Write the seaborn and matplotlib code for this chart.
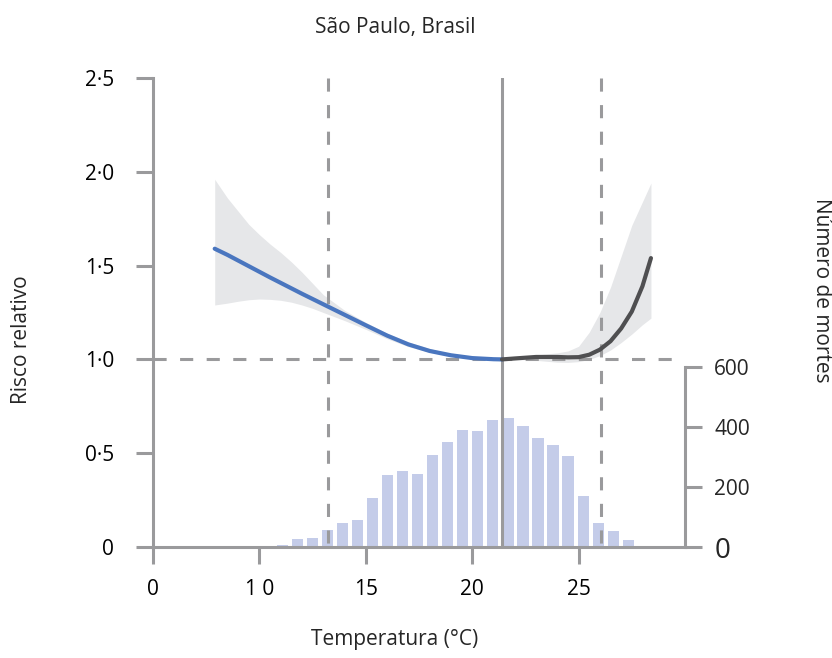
import numpy as np
import matplotlib
matplotlib.use("Agg")
import matplotlib.pyplot as plt
import seaborn as sns

# exposure-response curve (temperature in °C, relative risk)
temp = [7.9, 8.5, 9.0, 9.5, 10.0, 10.5, 11.0, 11.5, 12.0, 12.5, 13.0, 14.0, 15.0, 16.0,
        17.0, 18.0, 19.0, 20.0, 21.0, 21.4, 22.0, 23.0, 24.0, 24.5, 25.0, 25.5, 26.0,
        26.5, 27.0, 27.5, 28.0, 28.4]
rr = [1.59, 1.557, 1.527, 1.497, 1.467, 1.437, 1.408, 1.379, 1.35, 1.322, 1.294, 1.238,
      1.182, 1.127, 1.08, 1.045, 1.022, 1.007, 1.001, 1.0, 1.005, 1.013, 1.013, 1.011,
      1.012, 1.025, 1.052, 1.097, 1.165, 1.255, 1.39, 1.54]
rr_hi = [1.96, 1.86, 1.79, 1.72, 1.665, 1.615, 1.57, 1.52, 1.465, 1.405, 1.345, 1.262,
         1.197, 1.14, 1.093, 1.058, 1.03, 1.012, 1.003, 1.0, 1.01, 1.024, 1.035, 1.045,
         1.07, 1.145, 1.25, 1.385, 1.55, 1.715, 1.84, 1.94]
rr_lo = [1.29, 1.30, 1.31, 1.318, 1.322, 1.32, 1.315, 1.305, 1.29, 1.272, 1.25, 1.207,
         1.16, 1.11, 1.068, 1.038, 1.016, 1.004, 1.0, 1.0, 1.0, 0.995, 0.985, 0.984,
         0.988, 1.0, 1.02, 1.05, 1.09, 1.135, 1.185, 1.22]
mmt = 21.4
pct_lines = [13.24, 26.06]

# daily deaths histogram
bin_centres = [11.09, 11.80, 12.50, 13.21, 13.91, 14.62, 15.33, 16.03, 16.74, 17.44,
               18.15, 18.86, 19.56, 20.27, 20.97, 21.68, 22.39, 23.09, 23.80, 24.50,
               25.21, 25.92, 26.62, 27.33, 28.03]
deaths = [6, 26, 30, 56, 81, 89, 162, 238, 252, 242, 307, 349, 391, 387, 422, 428,
          402, 363, 341, 302, 170, 81, 52, 22, 3]

xtick_pos = [5, 10, 15, 20, 25]
xtick_lab = ["0", "1 0", "15", "20", "25"]
ytick_pos = [0, 0.5, 1.0, 1.5, 2.0, 2.5]
ytick_lab = ["0", "0·5", "1·0", "1·5", "2·0", "2·5"]

grey = "#9a9a9c"
dash = (0, (4.3, 4.4))
sns.set_style("white")
plt.rcParams["font.family"] = ["Open Sans", "DejaVu Sans"]

fig = plt.figure(figsize=(8.32, 6.58), dpi=100)
ax = fig.add_axes([153 / 832, 1 - 547 / 658, 532 / 832, 469 / 658])
ax2 = ax.twinx()
ax.set_zorder(ax2.get_zorder() + 1)
ax.patch.set_visible(False)

# histogram on the right axis
half = 0.353
edges = [c - half for c in bin_centres] + [bin_centres[-1] + half]
sns.histplot(x=bin_centres, weights=deaths, bins=edges, shrink=0.74, ax=ax2,
             color="#c4cce9", alpha=1, edgecolor="none", linewidth=0)
ax2.set_ylim(0, 1561)
ax2.set_ylabel("")
ax2.set_yticks([0, 200, 400, 600])
ax2.set_yticklabels(["0", "200", "400", "600"])

# reference lines
ax.plot([5, 30], [1, 1], color=grey, lw=2.2, ls=dash, zorder=1)
for xv in pct_lines:
    ax.plot([xv, xv], [2.5, 0], color=grey, lw=2.2, ls=dash, zorder=1)
ax.plot([mmt, mmt], [0, 2.5], color=grey, lw=2.2, zorder=1)

# confidence band and curve
ax.fill_between(temp, rr_lo, rr_hi, color="#e6e7e9", lw=0, zorder=0.5)
t = np.array(temp)
r = np.array(rr)
cold = t <= mmt
heat = t >= mmt
sns.lineplot(x=t[cold], y=r[cold], ax=ax, color="#4a76bf", lw=3, zorder=3)
sns.lineplot(x=t[heat], y=r[heat], ax=ax, color="#4f4f51", lw=3, zorder=3)

ax.set_xlim(5, 30)
ax.set_ylim(0, 2.5)
ax.set_xticks(xtick_pos)
ax.set_xticklabels(xtick_lab)
ax.set_yticks(ytick_pos)
ax.set_yticklabels(ytick_lab)
ax.set_xlabel("")
ax.set_ylabel("")

for a in (ax, ax2):
    for s in a.spines.values():
        s.set_visible(False)
ax.spines["left"].set_visible(True)
ax.spines["bottom"].set_visible(True)
ax.spines["left"].set_bounds(0, 2.5)
ax2.spines["right"].set_visible(True)
ax2.spines["right"].set_bounds(0, 600)
for sp in (ax.spines["left"], ax.spines["bottom"], ax2.spines["right"]):
    sp.set_color(grey)
    sp.set_linewidth(2.2)

ax.tick_params(axis="both", which="both", direction="out", length=12, width=2.2,
               color=grey, labelsize=15, labelcolor="black")
ax.tick_params(axis="x", pad=11, bottom=True)
ax.tick_params(axis="y", pad=16, left=True, right=False)
ax2.tick_params(axis="y", direction="out", length=12, width=2.2, color=grey,
                labelsize=15, pad=9, right=True, left=False)
ax2.get_yticklabels()[0].set_fontsize(20)

fig.text(395 / 832, 1 - 28 / 658, "São Paulo, Brasil", ha="center", va="center", fontsize=15)
fig.text(395 / 832, 1 - 640 / 658, "Temperatura (°C)", ha="center", va="center", fontsize=15)
fig.text(22 / 832, 1 - 340 / 658, "Risco relativo", ha="center", va="center",
         rotation=90, fontsize=15)
fig.text(822 / 832, 1 - 290 / 658, "Número de mortes", ha="center", va="center",
         rotation=-90, fontsize=15)

fig.savefig("out.png", dpi=100)
